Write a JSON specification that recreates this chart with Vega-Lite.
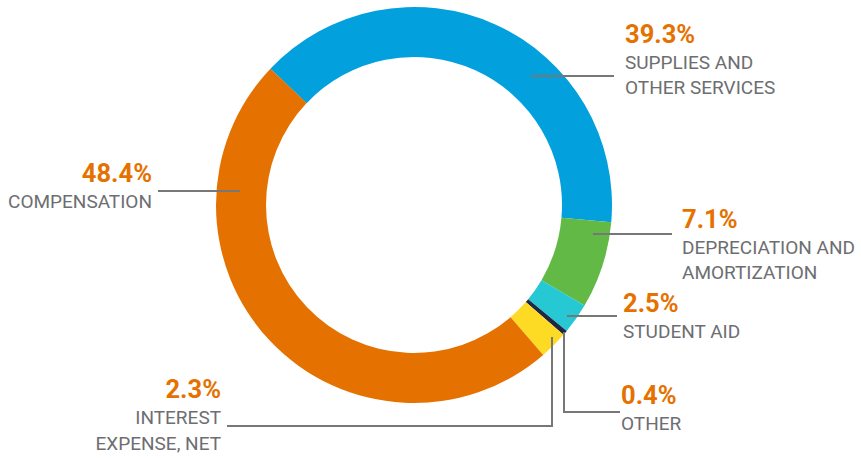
{
  "$schema": "https://vega.github.io/schema/vega-lite/v6.json",
  "width": 861,
  "height": 458,
  "autosize": {"type": "fit", "contains": "padding"},
  "padding": 0,
  "background": "white",
  "config": {"view": {"stroke": null}},
  "datasets": {
    "shares": [
      {"category": "Supplies and other services", "share": 0.393, "ord": 1},
      {"category": "Depreciation and amortization", "share": 0.071, "ord": 2},
      {"category": "Student aid", "share": 0.025, "ord": 3},
      {"category": "Other", "share": 0.004, "ord": 4},
      {"category": "Interest expense, net", "share": 0.023, "ord": 5},
      {"category": "Compensation", "share": 0.484, "ord": 6}
    ],
    "labels": [
      {"category": "Supplies and other services", "share": 0.393, "lines": "SUPPLIES AND\nOTHER SERVICES", "px": 625, "py": 43, "side": "left"},
      {"category": "Compensation", "share": 0.484, "lines": "COMPENSATION", "px": 152, "py": 182, "side": "right"},
      {"category": "Depreciation and amortization", "share": 0.071, "lines": "DEPRECIATION AND\nAMORTIZATION", "px": 682, "py": 228, "side": "left"},
      {"category": "Student aid", "share": 0.025, "lines": "STUDENT AID", "px": 623, "py": 312, "side": "left"},
      {"category": "Interest expense, net", "share": 0.023, "lines": "INTEREST\nEXPENSE, NET", "px": 221, "py": 398, "side": "right"},
      {"category": "Other", "share": 0.004, "lines": "OTHER", "px": 621, "py": 404, "side": "left"}
    ],
    "leaders": [
      {"seg": "A", "k": 1, "px": 531, "py": 76},
      {"seg": "A", "k": 2, "px": 614, "py": 76},
      {"seg": "B", "k": 1, "px": 158, "py": 191},
      {"seg": "B", "k": 2, "px": 240, "py": 191},
      {"seg": "C", "k": 1, "px": 593, "py": 234},
      {"seg": "C", "k": 2, "px": 672, "py": 234},
      {"seg": "D", "k": 1, "px": 567, "py": 316},
      {"seg": "D", "k": 2, "px": 617, "py": 316},
      {"seg": "E", "k": 1, "px": 552, "py": 337},
      {"seg": "E", "k": 2, "px": 552, "py": 426},
      {"seg": "E", "k": 3, "px": 227, "py": 426},
      {"seg": "F", "k": 1, "px": 564, "py": 332},
      {"seg": "F", "k": 2, "px": 564, "py": 412},
      {"seg": "F", "k": 3, "px": 620, "py": 412}
    ]
  },
  "layer": [
    {
      "data": {"name": "shares"},
      "mark": {"type": "arc", "outerRadius": 198, "innerRadius": 148},
      "encoding": {
        "x": {"datum": 414, "type": "quantitative", "scale": {"domain": [0, 861], "nice": false, "zero": false}, "axis": null},
        "y": {"datum": 205, "type": "quantitative", "scale": {"domain": [0, 458], "nice": false, "zero": false, "reverse": true}, "axis": null},
        "theta": {"field": "share", "type": "quantitative", "stack": true, "scale": {"range": [-0.8116, 5.4716]}},
        "order": {"field": "ord", "type": "quantitative"},
        "color": {
          "field": "category",
          "type": "nominal",
          "legend": null,
          "scale": {
            "domain": ["Supplies and other services", "Depreciation and amortization", "Student aid", "Other", "Interest expense, net", "Compensation"],
            "range": ["#03A0DE", "#62B946", "#26C8D3", "#1F2744", "#FDDA24", "#E57200"]
          }
        }
      }
    },
    {
      "data": {"name": "leaders"},
      "mark": {"type": "line", "color": "#777777", "strokeWidth": 2, "strokeCap": "butt"},
      "encoding": {
        "x": {"field": "px", "type": "quantitative", "scale": {"domain": [0, 861], "nice": false, "zero": false}, "axis": null},
        "y": {"field": "py", "type": "quantitative", "scale": {"domain": [0, 458], "nice": false, "zero": false, "reverse": true}, "axis": null},
        "detail": {"field": "seg", "type": "nominal"},
        "order": {"field": "k", "type": "quantitative"}
      }
    },
    {
      "data": {"name": "labels"},
      "transform": [{"filter": "datum.side == 'left'"}],
      "mark": {"type": "text", "align": "left", "baseline": "alphabetic", "font": "Roboto", "fontWeight": "bold", "fontSize": 25.5, "color": "#E57200"},
      "encoding": {
        "x": {"field": "px", "type": "quantitative", "scale": {"domain": [0, 861], "nice": false, "zero": false}, "axis": null},
        "y": {"field": "py", "type": "quantitative", "scale": {"domain": [0, 458], "nice": false, "zero": false, "reverse": true}, "axis": null},
        "text": {"field": "share", "type": "quantitative", "format": ".1%"}
      }
    },
    {
      "data": {"name": "labels"},
      "transform": [{"filter": "datum.side == 'right'"}],
      "mark": {"type": "text", "align": "right", "baseline": "alphabetic", "font": "Roboto", "fontWeight": "bold", "fontSize": 25.5, "color": "#E57200"},
      "encoding": {
        "x": {"field": "px", "type": "quantitative", "scale": {"domain": [0, 861], "nice": false, "zero": false}, "axis": null},
        "y": {"field": "py", "type": "quantitative", "scale": {"domain": [0, 458], "nice": false, "zero": false, "reverse": true}, "axis": null},
        "text": {"field": "share", "type": "quantitative", "format": ".1%"}
      }
    },
    {
      "data": {"name": "labels"},
      "transform": [{"filter": "datum.side == 'left'"}],
      "mark": {"type": "text", "align": "left", "baseline": "alphabetic", "dy": 26, "lineBreak": "\n", "lineHeight": 25, "font": "Roboto", "fontSize": 19, "color": "#6D6E71"},
      "encoding": {
        "x": {"field": "px", "type": "quantitative", "scale": {"domain": [0, 861], "nice": false, "zero": false}, "axis": null},
        "y": {"field": "py", "type": "quantitative", "scale": {"domain": [0, 458], "nice": false, "zero": false, "reverse": true}, "axis": null},
        "text": {"field": "lines", "type": "nominal"}
      }
    },
    {
      "data": {"name": "labels"},
      "transform": [{"filter": "datum.side == 'right'"}],
      "mark": {"type": "text", "align": "right", "baseline": "alphabetic", "dy": 26, "lineBreak": "\n", "lineHeight": 26, "font": "Roboto", "fontSize": 19, "color": "#6D6E71"},
      "encoding": {
        "x": {"field": "px", "type": "quantitative", "scale": {"domain": [0, 861], "nice": false, "zero": false}, "axis": null},
        "y": {"field": "py", "type": "quantitative", "scale": {"domain": [0, 458], "nice": false, "zero": false, "reverse": true}, "axis": null},
        "text": {"field": "lines", "type": "nominal"}
      }
    }
  ]
}
